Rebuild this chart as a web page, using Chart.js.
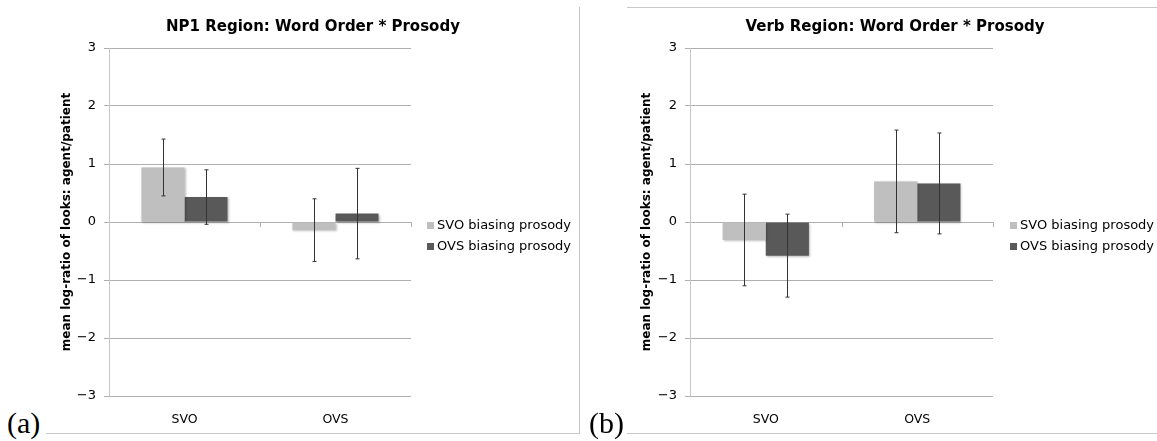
<!DOCTYPE html>
<html>
<head>
<meta charset="utf-8">
<script src="https://cdn.jsdelivr.net/npm/chart.js@4.4.1/dist/chart.umd.min.js"></script>
<style>
  body { margin: 0; background: #fff; }
  #wrap { position: relative; width: 1157px; height: 441px; overflow: hidden; font-family: "DejaVu Sans", sans-serif; }
  canvas { position: absolute; top: 0; }
  .line { position: absolute; background: #c8c8c8; }
  .tag { position: absolute; font-family: "Liberation Serif", serif; font-size: 30px; line-height: 30px; color: #000; }
  .ttl { position: absolute; top: 17px; width: 400px; text-align: center; font-size: 15px; font-weight: bold; line-height: 18px; color: #000; white-space: nowrap; }
  .leg { position: absolute; font-size: 13px; color: #000; white-space: nowrap; }
  .leg span { position: absolute; width: 7px; height: 7px; }
</style>
</head>
<body>
<div id="wrap">
  <canvas id="np1Chart" width="531" height="441" style="left:48px"></canvas>
  <canvas id="verbChart" width="524" height="441" style="left:633px"></canvas>
  <div class="line" style="left:46px; top:433px; width:533px; height:1px"></div>
  <div class="line" style="left:579px; top:7px; width:1px; height:427px"></div>
  <div class="line" style="left:627px; top:7px; width:530px; height:1px"></div>
  <div class="line" style="left:627px; top:433px; width:530px; height:1px"></div>
  <div class="tag" style="left:7px; top:408px">(a)</div>
  <div class="tag" style="left:589px; top:408px">(b)</div>
</div>
<script>
const categories = ['SVO', 'OVS'];
const seriesNames = ['SVO biasing prosody', 'OVS biasing prosody'];
const seriesColors = ['#bfbfbf', '#595959'];
const chartTitles = ['NP1 Region: Word Order * Prosody', 'Verb Region: Word Order * Prosody'];

// NP1 region
const np1Svo = [0.94, -0.14];
const np1Ovs = [0.43, 0.145];
const np1SvoErr = [0.49, 0.54];
const np1OvsErr = [0.47, 0.78];

// Verb region
const verbSvo = [-0.31, 0.70];
const verbOvs = [-0.58, 0.665];
const verbSvoErr = [0.79, 0.885];
const verbOvsErr = [0.715, 0.87];

const yMin = -3, yMax = 3;
const yTickLabels = ['\u22123', '\u22122', '\u22121', '0', '1', '2', '3'];
const yTitle = 'mean log-ratio of looks: agent/patient';

const fontFamily = '"DejaVu Sans", sans-serif';

// bar shadow + error bars
const errorBarPlugin = {
    id: 'errorBars',
    beforeDatasetsDraw(chart) {
        const ctx = chart.ctx;
        ctx.save();
        ctx.shadowColor = 'rgba(0,0,0,0.25)';
        ctx.shadowBlur = 2;
        ctx.shadowOffsetX = 1;
        ctx.shadowOffsetY = 1;
    },
    afterDatasetsDraw(chart) {
        const ctx = chart.ctx;
        ctx.restore();
        const y = chart.scales.y;
        ctx.save();
        ctx.strokeStyle = '#333';
        ctx.lineWidth = 1;
        chart.data.datasets.forEach((ds, di) => {
            const meta = chart.getDatasetMeta(di);
            meta.data.forEach((bar, i) => {
                const v = ds.data[i], e = ds.errors[i];
                const x = Math.round(bar.x) + 0.5;
                const top = y.getPixelForValue(v + e);
                const bot = y.getPixelForValue(v - e);
                ctx.beginPath();
                ctx.moveTo(x, top); ctx.lineTo(x, bot);
                ctx.moveTo(x - 2, top); ctx.lineTo(x + 2, top);
                ctx.moveTo(x - 2, bot); ctx.lineTo(x + 2, bot);
                ctx.stroke();
            });
        });
        ctx.restore();
    }
};

// small category tick marks hanging under the zero line
const zeroTickPlugin = {
    id: 'zeroTicks',
    afterDatasetsDraw(chart) {
        const x = chart.scales.x, y = chart.scales.y;
        const ctx = chart.ctx;
        const step = x.getPixelForValue(1) - x.getPixelForValue(0);
        const y0 = Math.round(y.getPixelForValue(0));
        ctx.save();
        ctx.strokeStyle = '#b0b0b0';
        ctx.lineWidth = 1;
        for (let i = 1; i <= categories.length; i++) {
            const px = Math.round(x.getPixelForValue(i - 1) + step / 2) + 0.5;
            ctx.beginPath();
            ctx.moveTo(px, y0);
            ctx.lineTo(px, y0 + 5);
            ctx.stroke();
        }
        ctx.restore();
    }
};

function makeChart(id, svo, ovs, svoErr, ovsErr, yWidth, yTitlePad, rightPad) {
    const ctx = document.getElementById(id).getContext('2d');
    return new Chart(ctx, {
        type: 'bar',
        data: {
            labels: categories,
            datasets: [
                { label: seriesNames[0], data: svo, errors: svoErr, backgroundColor: seriesColors[0] },
                { label: seriesNames[1], data: ovs, errors: ovsErr, backgroundColor: seriesColors[1] }
            ]
        },
        options: {
            responsive: false,
            animation: false,
            devicePixelRatio: 1,
            layout: { padding: { left: 0, right: rightPad, top: 48, bottom: 0 } },
            datasets: { bar: { barPercentage: 1, categoryPercentage: 0.57 } },
            plugins: {
                legend: { display: false },
                tooltip: { enabled: false },
                title: { display: false }
            },
            scales: {
                x: {
                    grid: { display: false, drawTicks: false },
                    border: { display: false },
                    ticks: { color: '#000', font: { family: fontFamily, size: 12.5 }, padding: 16 },
                    afterFit(scale) { scale.height = 45; }
                },
                y: {
                    min: yMin,
                    max: yMax,
                    grid: { color: '#b0b0b0', tickLength: 5, drawTicks: true },
                    border: { display: true, color: '#c8c8c8' },
                    ticks: {
                        stepSize: 1,
                        padding: 8,
                        color: '#000',
                        font: { family: fontFamily, size: 13 },
                        callback: (v) => yTickLabels[v - yMin]
                    },
                    title: {
                        display: true,
                        text: yTitle,
                        color: '#000',
                        font: { family: fontFamily, size: 12, weight: 'bold' },
                        padding: { top: yTitlePad, bottom: 0 }
                    },
                    afterFit(scale) { scale.width = yWidth; }
                }
            }
        },
        plugins: [errorBarPlugin, zeroTickPlugin]
    });
}

makeChart('np1Chart', np1Svo, np1Ovs, np1SvoErr, np1OvsErr, 61, 12, 168);
makeChart('verbChart', verbSvo, verbOvs, verbSvoErr, verbOvsErr, 57, 7, 164);

const wrap = document.getElementById('wrap');

// titles, centred over each panel
[313, 895].forEach((cx, k) => {
    const t = document.createElement('div');
    t.className = 'ttl';
    t.style.left = (cx - 200) + 'px';
    t.textContent = chartTitles[k];
    wrap.appendChild(t);
});

// legends next to each plot
[[427, 437], [1010, 1020]].forEach(([boxX, textX]) => {
    seriesNames.forEach((name, i) => {
        const cy = 225 + i * 21;
        const d = document.createElement('div');
        d.className = 'leg';
        d.style.left = textX + 'px';
        d.style.top = (cy - 8) + 'px';
        d.style.lineHeight = '16px';
        d.textContent = name;
        const sq = document.createElement('span');
        sq.style.left = (boxX - textX) + 'px';
        sq.style.top = '5px';
        sq.style.background = seriesColors[i];
        d.appendChild(sq);
        wrap.appendChild(d);
    });
});
</script>
</body>
</html>
